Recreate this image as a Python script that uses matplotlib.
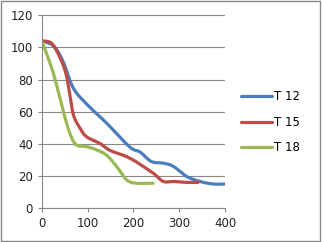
import matplotlib
matplotlib.use("Agg")
import matplotlib.pyplot as plt
import numpy as np
from matplotlib.patches import Rectangle

x_t12 = [0, 25, 46, 68, 97, 141, 192, 214, 239, 265, 287, 316, 345, 374, 400]
y_t12 = [104, 101, 91.5, 75, 65, 53, 38, 35, 29, 28, 26, 19.7, 16.6, 15, 15]
x_t15 = [0, 21, 39, 54, 68, 83, 97, 126, 148, 177, 199, 221, 243, 265, 287, 316, 341]
y_t15 = [104, 102.6, 94, 82, 59, 50, 44.5, 40.4, 36, 33, 30, 26, 21.8, 16.6, 16.6, 16, 16]
x_t18 = [0, 25, 46, 61, 75, 97, 119, 141, 163, 185, 206, 243]
y_t18 = [104, 84, 61, 46.6, 39.4, 38.3, 36.3, 33, 26, 17.6, 15.5, 15.5]
labels = ["T 12", "T 15", "T 18"]
colors = ["#4A7EBB", "#BE4B48", "#98B954"]


def smooth_path(xs, ys, n=12):
    # Excel-style smoothed line rendering (Catmull-Rom through the given points)
    p = np.column_stack([xs, ys]).astype(float)
    p = np.vstack([p[0], p, p[-1]])
    out = []
    t = np.linspace(0, 1, n, endpoint=False)
    for i in range(1, len(p) - 2):
        p0, p1, p2, p3 = p[i - 1], p[i], p[i + 1], p[i + 2]
        tt = t[:, None]
        seg = 0.5 * ((2 * p1) + (-p0 + p2) * tt + (2 * p0 - 5 * p1 + 4 * p2 - p3) * tt ** 2
                     + (-p0 + 3 * p1 - 3 * p2 + p3) * tt ** 3)
        out.append(seg)
    out.append(p[-2][None, :])
    out = np.vstack(out)
    return out[:, 0], out[:, 1]


fig = plt.figure(figsize=(3.22, 2.42), dpi=100)
ax = fig.add_axes([0.130, 0.140, 0.569, 0.797])
for xs, ys, lab, c in zip([x_t12, x_t15, x_t18], [y_t12, y_t15, y_t18], labels, colors):
    sx, sy = smooth_path(xs, ys)
    ax.plot(sx, sy, color=c, lw=2.3, label=lab, solid_capstyle="round")
ax.set_xlim(0, 400)
ax.set_ylim(0, 120)
ax.set_xticks([0, 100, 200, 300, 400])
ax.set_yticks([0, 20, 40, 60, 80, 100, 120])
ax.yaxis.grid(True, color="#888888", lw=0.8)
ax.set_axisbelow(True)
for s in ["top", "right"]:
    ax.spines[s].set_visible(False)
for s in ["left", "bottom"]:
    ax.spines[s].set_color("#888888")
ax.tick_params(axis="both", colors="#888888", labelcolor="#222222", labelsize=8.5, length=3, direction="out")
ax.legend(loc="center left", bbox_to_anchor=(1.03, 0.445), frameon=False, fontsize=8.5,
          handlelength=2.6, labelspacing=1.05, handletextpad=0.2)
fig.patches.append(Rectangle((0.003, 0.004), 0.992, 0.99, transform=fig.transFigure,
                             fill=False, edgecolor="#888888", lw=1))
fig.savefig("out.png", dpi=100)
